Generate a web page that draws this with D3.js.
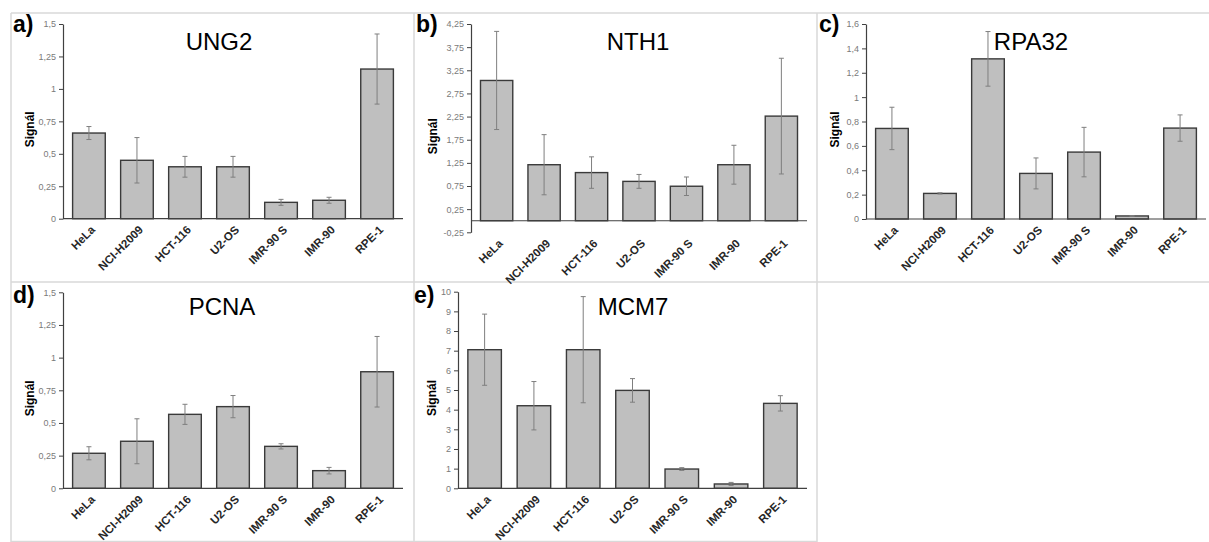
<!DOCTYPE html>
<html>
<head>
<meta charset="utf-8">
<script src="https://cdn.jsdelivr.net/npm/d3@7"></script>
<style>
  body { margin: 0; background: #fff; }
  svg { display: block; font-family: "Liberation Sans", Arial, sans-serif; }
</style>
</head>
<body>
<div id="chart"></div>
<script>
// cell lines, same order in every panel
var categories = ["HeLa", "NCI-H2009", "HCT-116", "U2-OS", "IMR-90 S", "IMR-90", "RPE-1"];

var ung2Values = [0.66, 0.45, 0.40, 0.40, 0.126, 0.142, 1.153];
var ung2Errors = [0.05, 0.175, 0.08, 0.08, 0.023, 0.023, 0.27];
var ung2Ticks = [0, 0.25, 0.5, 0.75, 1, 1.25, 1.5];

var nth1Values = [3.03, 1.21, 1.04, 0.85, 0.745, 1.21, 2.26];
var nth1Errors = [1.06, 0.65, 0.34, 0.15, 0.2, 0.42, 1.25];
var nth1Ticks = [-0.25, 0.25, 0.75, 1.25, 1.75, 2.25, 2.75, 3.25, 3.75, 4.25];

var rpa32Values = [0.743, 0.21, 1.314, 0.374, 0.549, 0.025, 0.746];
var rpa32Errors = [0.174, 0.005, 0.224, 0.127, 0.203, 0.002, 0.108];
var rpa32Ticks = [0, 0.2, 0.4, 0.6, 0.8, 1, 1.2, 1.4, 1.6];

var pcnaValues = [0.268, 0.36, 0.566, 0.625, 0.321, 0.135, 0.892];
var pcnaErrors = [0.05, 0.172, 0.077, 0.085, 0.02, 0.025, 0.27];
var pcnaTicks = [0, 0.25, 0.5, 0.75, 1, 1.25, 1.5];

var mcm7Values = [7.05, 4.2, 7.05, 4.98, 0.98, 0.22, 4.32];
var mcm7Errors = [1.81, 1.23, 2.7, 0.6, 0.07, 0.08, 0.39];
var mcm7Ticks = [0, 1, 2, 3, 4, 5, 6, 7, 8, 9, 10];

var panels = [
  {tag: "a)", title: "UNG2",  values: ung2Values,  errors: ung2Errors,  ticks: ung2Ticks,
   left: 63,  right: 403,  top: 24,    bottom: 218.7, tagX: 13,  tagY: 32,  titleX: 219,  titleY: 50,  ylabX: 30},
  {tag: "b)", title: "NTH1",  values: nth1Values,  errors: nth1Errors,  ticks: nth1Ticks,
   left: 471, right: 807,  top: 24,    bottom: 232.3, tagX: 416, tagY: 32,  titleX: 638,  titleY: 50,  ylabX: 433},
  {tag: "c)", title: "RPA32", values: rpa32Values, errors: rpa32Errors, ticks: rpa32Ticks,
   left: 866, right: 1206, top: 24,    bottom: 219,   tagX: 819, tagY: 32,  titleX: 1031, titleY: 50,  ylabX: 835},
  {tag: "d)", title: "PCNA",  values: pcnaValues,  errors: pcnaErrors,  ticks: pcnaTicks,
   left: 63,  right: 403,  top: 292.3, bottom: 488.3, tagX: 13,  tagY: 303, titleX: 222,  titleY: 315, ylabX: 30},
  {tag: "e)", title: "MCM7",  values: mcm7Values,  errors: mcm7Errors,  ticks: mcm7Ticks,
   left: 458, right: 807,  top: 291.7, bottom: 488.3, tagX: 414, tagY: 303, titleX: 633,  titleY: 315, ylabX: 432}
];

var width = 1209, height = 542;

var svg = d3.select("#chart").append("svg")
    .attr("width", width)
    .attr("height", height);

// light grey frame around the panels
var frame = [
  [11, 13, 1209, 13],
  [11, 282, 1209, 282],
  [11, 541.5, 817, 541.5],
  [11, 13, 11, 542],
  [414, 13, 414, 542],
  [817, 13, 817, 542]
];
svg.selectAll("line.frame")
    .data(frame)
    .enter()
    .append("line")
    .attr("class", "frame")
    .attr("x1", function(d){ return d[0]; })
    .attr("y1", function(d){ return d[1]; })
    .attr("x2", function(d){ return d[2]; })
    .attr("y2", function(d){ return d[3]; })
    .attr("stroke", "#d9d9d9")
    .attr("stroke-width", 1.5);

function commaFormat(v){
  return String(v).replace(".", ",");
}

function drawPanel(p){
  var g = svg.append("g");
  var ticks = p.ticks;

  var y = d3.scaleLinear()
      .domain([ticks[0], ticks[ticks.length - 1]])
      .range([p.bottom, p.top]);

  var x = d3.scaleBand()
      .domain(categories)
      .range([p.left, p.right])
      .paddingInner(0.32)
      .paddingOuter(0.2);

  var rows = categories.map(function(c, i){
    return {name: c, value: p.values[i], err: p.errors[i]};
  });

  // bars
  g.selectAll("rect")
      .data(rows)
      .enter()
      .append("rect")
      .attr("x", function(d){ return x(d.name); })
      .attr("width", x.bandwidth())
      .attr("y", function(d){ return y(d.value); })
      .attr("height", function(d){ return y(0) - y(d.value); })
      .attr("fill", "#bfbfbf")
      .attr("stroke", "#3a3a3a")
      .attr("stroke-width", 1.4);

  // x axis line at zero
  g.append("line")
      .attr("x1", p.left)
      .attr("x2", p.right)
      .attr("y1", y(0))
      .attr("y2", y(0))
      .attr("stroke", "#404040")
      .attr("stroke-width", 1.2);

  // error bars
  var eb = g.selectAll("g.err")
      .data(rows)
      .enter()
      .append("g")
      .attr("class", "err")
      .attr("stroke", "#7f7f7f")
      .attr("stroke-width", 1);
  eb.append("line")
      .attr("x1", function(d){ return x(d.name) + x.bandwidth() / 2; })
      .attr("x2", function(d){ return x(d.name) + x.bandwidth() / 2; })
      .attr("y1", function(d){ return y(d.value + d.err); })
      .attr("y2", function(d){ return y(d.value - d.err); });
  [1, -1].forEach(function(s){
    eb.append("line")
        .attr("x1", function(d){ return x(d.name) + x.bandwidth() / 2 - 2.5; })
        .attr("x2", function(d){ return x(d.name) + x.bandwidth() / 2 + 2.5; })
        .attr("y1", function(d){ return y(d.value + s * d.err); })
        .attr("y2", function(d){ return y(d.value + s * d.err); });
  });

  // y axis
  var yAxis = g.append("g")
      .attr("transform", "translate(" + p.left + ",0)")
      .call(d3.axisLeft(y).tickValues(ticks).tickSize(4).tickSizeOuter(0).tickFormat(commaFormat));
  yAxis.select(".domain").attr("stroke", "#404040").attr("stroke-width", 1.2);
  yAxis.selectAll(".tick line").attr("stroke", "#404040");
  yAxis.selectAll(".tick text")
      .attr("fill", "#7a7a7a")
      .attr("font-size", "9px")
      .attr("font-family", "Liberation Sans, Arial, sans-serif")
      .attr("x", -7);

  // category labels, rotated
  g.selectAll("text.cat")
      .data(rows)
      .enter()
      .append("text")
      .attr("class", "cat")
      .attr("transform", function(d){
        return "translate(" + (x(d.name) + x.bandwidth() / 2 + 4) + "," + (y(ticks[0]) + 9) + ") rotate(-45)";
      })
      .attr("text-anchor", "end")
      .attr("dy", "0.35em")
      .attr("font-size", "11.5px")
      .attr("font-weight", "bold")
      .attr("fill", "#262626")
      .text(function(d){ return d.name; });

  // y label
  g.append("text")
      .attr("transform", "translate(" + p.ylabX + "," + ((p.top + p.bottom) / 2 + 8) + ") rotate(-90)")
      .attr("text-anchor", "middle")
      .attr("dy", "0.35em")
      .attr("font-size", "12px")
      .attr("font-weight", "bold")
      .attr("fill", "#000")
      .text("Signál");

  g.append("text")
      .attr("x", p.titleX)
      .attr("y", p.titleY)
      .attr("text-anchor", "middle")
      .attr("font-size", "24px")
      .attr("fill", "#000")
      .text(p.title);

  g.append("text")
      .attr("x", p.tagX)
      .attr("y", p.tagY)
      .attr("font-size", "23px")
      .attr("font-weight", "bold")
      .attr("fill", "#000")
      .text(p.tag);
}

panels.forEach(drawPanel);
</script>
</body>
</html>
